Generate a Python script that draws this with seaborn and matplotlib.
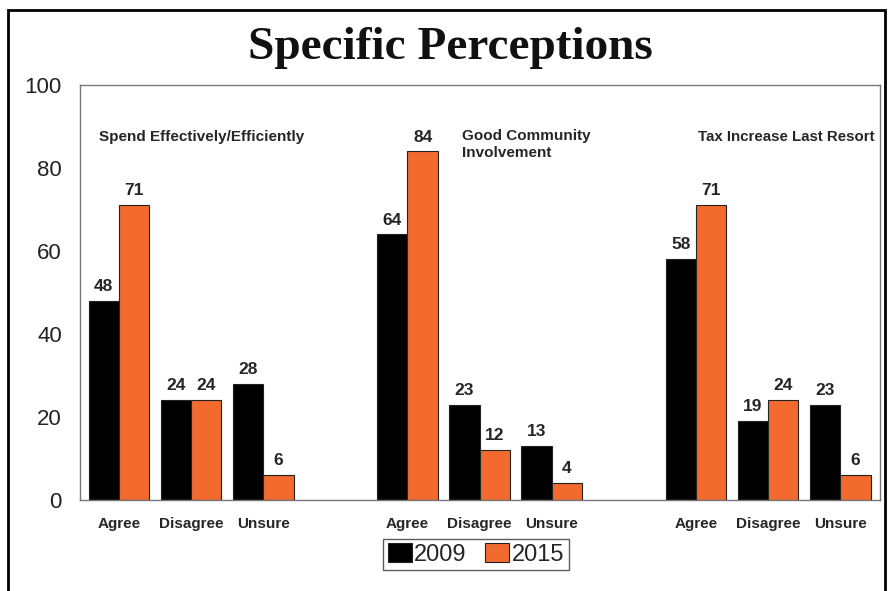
import pandas as pd
import matplotlib.pyplot as plt
import seaborn as sns
from matplotlib.patches import Rectangle

# data
groups = ["Spend Effectively/Efficiently", "Good Community\nInvolvement", "Tax Increase Last Resort"]
answers = ["Agree", "Disagree", "Unsure"]
years = ["2009", "2015"]
vals_2009 = [48, 24, 28, 64, 23, 13, 58, 19, 23]
vals_2015 = [71, 24, 6, 84, 12, 4, 71, 24, 6]

# category slots, with an empty slot between groups
slots = []
for g in range(3):
    for a in answers:
        slots.append(f"{a}{g}")
    if g < 2:
        slots.append(f"gap{g}")

rows = []
i = 0
for g in range(3):
    for a in answers:
        rows.append({"slot": f"{a}{g}", "year": "2009", "value": vals_2009[i]})
        rows.append({"slot": f"{a}{g}", "year": "2015", "value": vals_2015[i]})
        i += 1
df = pd.DataFrame(rows)

sns.set_style("white")
plt.rcParams['font.family'] = ['Liberation Sans', 'DejaVu Sans']

fig = plt.figure(figsize=(8.92, 5.91), dpi=100)
ax = fig.add_axes([0.0897, 0.154, 0.8968, 0.702])

palette = {"2009": "#000000", "2015": "#F26A2E"}
sns.barplot(data=df, x="slot", y="value", hue="year", order=slots, hue_order=years,
            palette=palette, width=0.84, edgecolor="#222222", linewidth=0.8,
            saturation=1, ax=ax)

for cont in ax.containers:
    ax.bar_label(cont, padding=5, fontsize=12.5, fontweight="bold")

ax.set_ylim(0, 100)
ax.set_xlim(-0.54, 10.55)
ax.set_yticks([0, 20, 40, 60, 80, 100])
ax.tick_params(axis="y", labelsize=16, length=0, pad=13, labelcolor="#222222")
ticks = [slots.index(s) for s in slots if not s.startswith("gap")]
ax.set_xticks(ticks)
ax.set_xticklabels([s[:-1] for s in slots if not s.startswith("gap")],
                   fontsize=11, fontweight="bold")
ax.tick_params(axis="x", length=0, pad=12)
ax.set_xlabel("")
ax.set_ylabel("")
for sp in ax.spines.values():
    sp.set_color("#777777")
    sp.set_linewidth(1)

# group labels
ax.text(-0.27, 89.2, groups[0], fontsize=11, fontweight="bold", va="top", ha="left")
ax.text(4.75, 89.5, groups[1], fontsize=11, fontweight="bold", va="top", ha="left",
        linespacing=1.3)
ax.text(8.03, 89.2, groups[2], fontsize=10.8, fontweight="bold", va="top", ha="left")

handles, labels = ax.get_legend_handles_labels()
ax.legend(handles, labels, loc="upper center", bbox_to_anchor=(0.495, -0.065),
          ncol=2, fontsize=17, frameon=True, fancybox=False, edgecolor="#333333",
          handlelength=1.0, handleheight=0.8, handletextpad=0.1, columnspacing=0.8,
          borderpad=0.2)

fig.text(0.505, 0.918, "Specific Perceptions", ha="center", va="center",
         fontsize=34, fontweight="bold", family="Liberation Serif", color="#111111")

# outer frame
fig.patches.append(Rectangle((0.009, -0.05), 0.983, 1.033, transform=fig.transFigure,
                             fill=False, edgecolor="black", linewidth=2))

fig.savefig("out.png", dpi=100)
